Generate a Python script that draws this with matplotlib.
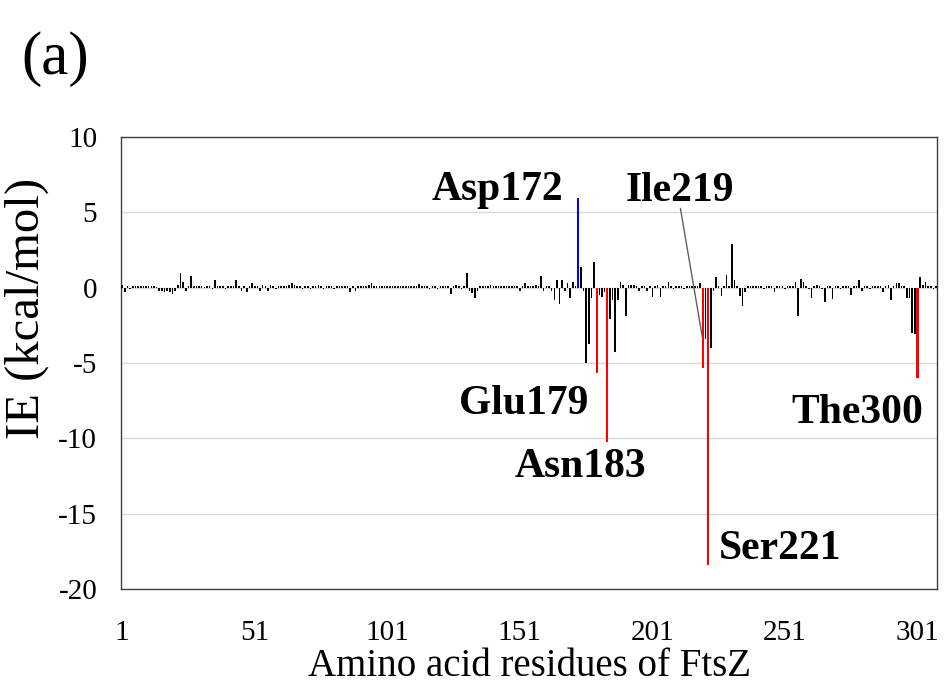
import matplotlib
matplotlib.use("Agg")
import matplotlib.pyplot as plt
import numpy as np

## ======= Interaction energy (IE) per residue of FtsZ

# IE values [kcal/mol] for category positions 1..308
ie = [
    0.2, -0.3, 0.1, -0.1, 0.1, 0.1, 0.1, 0.1, 0.1, 0.1,
    0.1, 0.1, 0.1, 0.05, -0.2, -0.2, -0.3, -0.2, -0.3, -0.4,
    -0.2, 0.2, 1.0, 0.4, -0.2, 0.1, 0.8, 0.1, 0.1, 0.1,
    0.1, 0.05, 0.1, 0.1, -0.1, 0.5, 0.1, 0.1, 0.1, -0.1,
    0.1, 0.1, 0.1, 0.5, 0.1, -0.2, 0.1, -0.3, 0.1, 0.3,
    0.1, 0.1, -0.2, 0.2, 0.1, -0.2, 0.2, 0.1, -0.1, 0.1,
    0.1, 0.1, 0.1, 0.2, 0.3, 0.2, 0.1, 0.1, -0.1, 0.1,
    0.1, -0.1, 0.1, 0.1, 0.2, 0.1, -0.1, 0.1, 0.1, 0.1,
    -0.1, 0.1, 0.1, 0.1, 0.1, 0.1, -0.3, 0.1, -0.2, 0.1,
    0.1, 0.1, 0.1, 0.2, 0.3, 0.1, 0.1, 0.1, 0.1, 0.1,
    0.1, 0.1, 0.1, 0.1, 0.1, 0.1, 0.1, 0.1, 0.1,
    0.1, 0.1, 0.1, 0.25, 0.1, 0.1, 0.1, -0.1, 0.1, 0.1,
    -0.1, 0.1, 0.1, 0.1, 0.1, -0.4, 0.1, 0.2, 0.1, -0.1,
    0.1, 1.0, -0.2, -0.35, -0.7, -0.2, 0.1, 0.1, 0.1, 0.1,
    0.2, 0.1, 0.1, 0.1, 0.1, 0.15, 0.1, 0.1, 0.1, 0.1,
    0.1, -0.2, 0.1, 0.3, 0.1, 0.1, 0.1, 0.2, 0.1, 0.8,
    -0.2, 0.1, 0.1, -0.2, -0.8, 0.5, -1.1, 0.5, -0.2, 0.3,
    -0.7, 0.4, 0.1, 5.93, 1.35, -0.2, -4.97, -3.7, -0.7, 1.7,
    -5.64, -0.45, -0.6, -0.3, -10.24, -2.1, -0.8, -4.25, -0.8, 0.4,
    0.2, -1.9, 0.2, 0.2, 0.2, 0.1, -0.2, 0.1, 0.1, -0.2,
    0.1, -0.6, 0.1, 0.2, -0.6, 0.1, 0.1, 0.4, 0.1, -0.1,
    0.1, 0.1, 0.1, -0.1, 0.1, 0.1, 0.1, 0.1, 0.1, 0.3,
    -5.35, -3.4, -18.4, -4.0, -0.2, 0.7, 0.1, -0.57, 0.1, 0.86,
    0.1, 2.9, 0.53, 0.1, -0.57, -1.2, -0.3, 0.1, 0.1, 0.1,
    0.1, 0.1, 0.1, -0.1, 0.1, 0.1, 0.1, -0.3, 0.1, 0.1,
    0.1, -0.1, 0.1, 0.1, 0.1, 0.4, -1.9, 0.6, 0.4, 0.1,
    -0.1, -0.65, 0.1, 0.2, 0.1, -0.1, -0.97, 0.1, 0.1, -0.73,
    0.1, 0.1, -0.1, 0.1, 0.1, 0.1, -0.5, 0.1, 0.1, 0.5,
    -0.2, 0.1, 0.1, -0.1, 0.1, 0.1, 0.1, 0.1, -0.3, 0.1,
    0.2, -0.8, 0.1, 0.3, 0.3, 0.1, 0.1, -0.65, -0.65, -3.0,
    -3.1, -6.0, 0.7, 0.2, 0.4, 0.1, 0.1, -0.1, 0.1,
]
positions = np.arange(1, len(ie) + 1)

# highlighted residues: (label, category position, colour, text dx, text dy)
highlights = [
    ("Asp172", 173, "#0000ff", -30.6, 0.55),
    ("Glu179", 180, "#ff0000", -27.4, -2.1),
    ("Asn183", 184, "#ff0000", -10.3, -1.65),
    ("Ile219", 220, "#ff0000", -8.6, 11.8),
    ("Ser221", 222, "#ff0000", 27.2, 1.05),
    ("The300", 301, "#ff0000", -22.8, -2.3),
]

xtick_pos = [1, 51, 101, 151, 201, 251, 301]

plt.rcParams['font.family'] = ['Liberation Serif', 'DejaVu Serif']
plt.rcParams['axes.unicode_minus'] = False

fig = plt.figure(figsize=(9.44, 6.89), dpi=100)
ax = fig.add_axes([0.128, 0.145, 0.865, 0.656])

colors = ['black'] * len(ie)
widths = [0.6] * len(ie)
for name, pos, col, dx, dy in highlights:
    colors[pos - 1] = col
    widths[pos - 1] = 0.85
ax.bar(positions, ie, width=widths, color=colors, zorder=3)

# light horizontal gridlines like Excel
ax.set_ylim(-20, 10)
ax.set_yticks(np.arange(-20, 11, 5))
ax.yaxis.grid(True, color='#d9d9d9', linewidth=1.0, zorder=0)
ax.set_xlim(0.5, len(ie) + 0.5)
ax.set_xticks(xtick_pos)
ax.set_xticklabels([str(p) for p in xtick_pos])
ax.tick_params(axis='both', length=0, labelsize=21)
ax.tick_params(axis='x', pad=22)
ax.tick_params(axis='y', pad=17)
for sp in ax.spines.values():
    sp.set_color('#404040')
    sp.set_linewidth(1.0)

ax.set_xlabel('Amino acid residues of FtsZ', fontsize=28, labelpad=2)
ax.set_ylabel('IE (kcal/mol)', fontsize=35)
ax.yaxis.set_label_coords(-0.088, 0.62)

ie_arr = np.array(ie)
for name, pos, col, dx, dy in highlights:
    val = ie_arr[pos - 1]
    ax.text(pos + dx, val + dy, name, fontsize=30, fontweight='bold',
            ha='center', va='center', zorder=5)

# leader line for Ile219
ile = highlights[3]
ax.annotate('', xy=(ile[1], ie_arr[ile[1] - 1] + 1.9),
            xytext=(ile[1] + ile[3], ie_arr[ile[1] - 1] + ile[4] - 1.0),
            arrowprops=dict(arrowstyle='-', color='#606060', lw=1.0), zorder=4)

fig.text(0.023, 0.955, '(a)', fontsize=44, ha='left', va='top')

plt.savefig('out.png', dpi=100)
